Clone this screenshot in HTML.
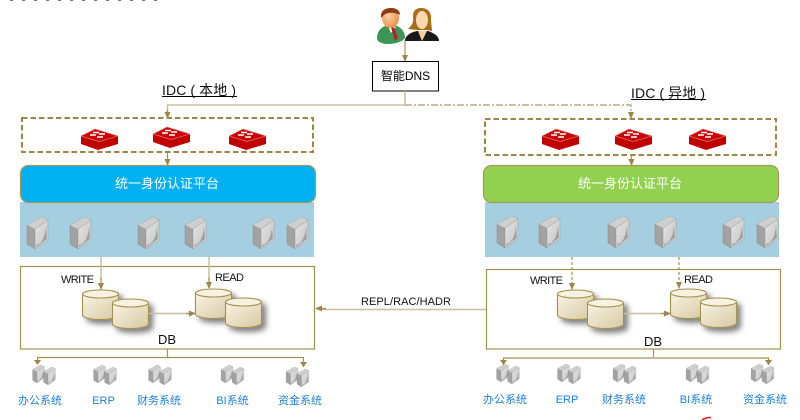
<!DOCTYPE html>
<html><head><meta charset="utf-8">
<style>
html,body{margin:0;padding:0;background:#fff;width:800px;height:420px;overflow:hidden}
svg{display:block}
text{font-family:"Liberation Sans","Noto Sans CJK SC",sans-serif}
.k{fill:#111;font-size:11px}
.b{fill:#1f7fd6;font-size:11px;text-anchor:middle}
.w{fill:#fff;font-size:13px;text-anchor:middle}
.l{fill:none;stroke:#a3924f;stroke-width:1.2}
.t{fill:none;stroke:#c9bfa0;stroke-width:1.5}
.d{fill:none;stroke:#a3924f;stroke-width:1.2;stroke-dasharray:3 2}
.dash{fill:#fff;stroke:#9a8748;stroke-width:2;stroke-dasharray:5.5 3}
.box{fill:#fff;stroke:#a3924f;stroke-width:1.2}
</style></head><body>
<svg width="800" height="420" viewBox="0 0 800 420" xmlns="http://www.w3.org/2000/svg">
<defs>
<marker id="a" markerWidth="7" markerHeight="6" refX="6" refY="3" orient="auto" markerUnits="userSpaceOnUse"><path d="M0 0L7 3L0 6Z" fill="#9a8748"/></marker>
<linearGradient id="cy" x1="0" y1="0" x2="1" y2="1"><stop offset="0" stop-color="#f8f3e4"/><stop offset="1" stop-color="#d6c9a3"/></linearGradient>
<linearGradient id="sv" x1="0" y1="0" x2="1" y2="1"><stop offset="0" stop-color="#e6e6e6"/><stop offset=".6" stop-color="#d0d0d0"/><stop offset="1" stop-color="#e4e4e4"/></linearGradient>
<radialGradient id="fc" cx=".4" cy=".4" r=".7"><stop offset="0" stop-color="#fbd0a6"/><stop offset="1" stop-color="#e8893f"/></radialGradient>
<filter id="sh" x="-30%" y="-30%" width="170%" height="170%"><feDropShadow dx="4" dy="4" stdDeviation="3" flood-color="#000" flood-opacity=".5"/></filter>
<symbol id="sw" viewBox="0 0 37 21" overflow="visible">
<path d="M0 7L14 0L37 7V15L17 21L0 15Z" fill="#c00000"/>
<path d="M0 7L14 0L37 7L18 12.5Z" fill="#c80808" stroke="#e88a8a" stroke-width=".6"/>
<path d="M12 3.500h6M18 5h6M9 6h6M16 8h6" stroke="#fff" stroke-width="1.4" fill="none"/>
</symbol>
<symbol id="sr" viewBox="0 0 21 32" overflow="visible">
<path d="M0 8L15 0L21 3L8 12V32L0 27Z" fill="#a2a2a2" stroke="#8a8a8a" stroke-width=".5"/>
<path d="M0 8L15 0L21 3L8 12Z" fill="#cfcfcf"/>
<path d="M8 12L21 3V23L8 32Z" fill="url(#sv)" stroke="#9a9a9a" stroke-width=".5"/>
<path d="M9 28C15 27 18 20 19 10L20 22L9 30Z" fill="#a0a0a0"/>
</symbol>
<symbol id="pr" viewBox="0 0 24 20" overflow="visible">
<use href="#sr" x="0" y="0" width="13" height="18"/>
<use href="#sr" x="11" y="2" width="13" height="18"/>
</symbol>
<symbol id="cyl" viewBox="0 0 37 31" overflow="visible">
<path d="M.5 5V26C.5 28.500 8.500 30.500 18.500 30.500S36.500 28.500 36.500 26V5Z" fill="url(#cy)" stroke="#a3924f" stroke-width="1.1"/>
<ellipse cx="18.500" cy="5" rx="18" ry="4" fill="#f6f1e0" stroke="#a3924f" stroke-width="1.1"/>
</symbol>
</defs>

<path d="M10 .5H165" stroke="#777" stroke-width="1" stroke-dasharray="3 9"/>
<path d="M702 419.5L708 417.5H711" stroke="#d8202a" stroke-width="1.6" fill="none"/>

<!-- users -->
<g>
<path d="M377 38C377 30 383 25 391 25C399 25 405 30 405 38C402 42 395 44 388 44C382 44 377 42 377 38Z" fill="#3d9655"/>
<path d="M388 26L391 33L396 27Z" fill="#fff"/>
<path d="M391 27L394 27L398 38L395 41L392 31Z" fill="#b5202a"/>
<ellipse cx="390.500" cy="18" rx="8.500" ry="10" fill="url(#fc)"/>
<path d="M381 18C380 11 385 8 391 8C397 8 400 11 400 15C395 12 387 12 384 15Z" fill="#8e3a12"/>
<path d="M405 41C405 35 412 32 417 31H428C434 33 439 36 439 41Z" fill="#1a1a1a"/>
<path d="M418 31L422 41L427 31Z" fill="#f7cfa5"/>
<path d="M408 29C411 26 414 24 413 16C413 10 417 8 421 8C428 8 431 12 431 18C431 24 432 28 432 31L427 30H417Z" fill="#a96d14"/>
<ellipse cx="422" cy="20" rx="6" ry="9" fill="#fbd7b2"/>
</g>

<path class="l" d="M405 41V61" marker-end="url(#a)"/>
<rect x="372.500" y="61.500" width="66" height="29.500" fill="#fff" stroke="#000"/>
<text x="405.500" y="80" font-size="12" text-anchor="middle" fill="#000">智能DNS</text>

<path class="t" d="M405 91V105H167.500V112"/>
<path class="l" d="M167.500 110V118" marker-end="url(#a)"/>
<path d="M405 105H631V118" fill="none" stroke="#a89a68" stroke-width="1.2" stroke-dasharray="7 2 2 2" marker-end="url(#a)"/>

<text x="162" y="95" font-size="14" fill="#111" textLength="74" xml:space="preserve">IDC ( 本地 )</text>
<path d="M162 96.500H237" stroke="#000"/>
<text x="631" y="98" font-size="14" fill="#111" textLength="74" xml:space="preserve">IDC ( 异地 )</text>
<path d="M631 99.500H706" stroke="#000"/>

<rect x="22" y="118" width="291" height="34" class="dash"/>
<rect x="485" y="119" width="291" height="36" class="dash"/>
<use href="#sw" x="81" y="129" width="37" height="21"/>
<use href="#sw" x="153" y="127" width="37" height="21"/>
<use href="#sw" x="229" y="129" width="37" height="21"/>
<use href="#sw" x="542" y="129" width="37" height="21"/>
<use href="#sw" x="615" y="129" width="37" height="21"/>
<use href="#sw" x="689" y="129" width="37" height="21"/>

<path class="l" d="M167.500 152V165" marker-end="url(#a)"/>
<path class="l" d="M631.500 155V165" marker-end="url(#a)"/>

<rect x="20" y="202" width="294" height="55" fill="#a5cfe1"/>
<rect x="485" y="202" width="294" height="55" fill="#a5cfe1"/>
<rect x="20.500" y="165.500" width="295" height="37" rx="8" fill="#00b0f0" stroke="#a89858" stroke-width="1.2"/>
<rect x="483.500" y="165.500" width="295" height="37" rx="8" fill="#92d050" stroke="#a89858" stroke-width="1.2"/>
<text class="w" x="167" y="188">统一身份认证平台</text>
<text class="w" x="630" y="188">统一身份认证平台</text>

<use href="#sr" x="27" y="217" width="21" height="32"/>
<use href="#sr" x="70" y="217" width="21" height="32"/>
<use href="#sr" x="138" y="217" width="21" height="32"/>
<use href="#sr" x="185" y="217" width="21" height="32"/>
<use href="#sr" x="253" y="217" width="21" height="32"/>
<use href="#sr" x="287" y="217" width="21" height="32"/>
<use href="#sr" x="497" y="216" width="21" height="32"/>
<use href="#sr" x="539" y="216" width="21" height="32"/>
<use href="#sr" x="608" y="216" width="21" height="32"/>
<use href="#sr" x="655" y="216" width="21" height="32"/>
<use href="#sr" x="723" y="216" width="21" height="32"/>
<use href="#sr" x="757" y="216" width="21" height="32"/>

<rect x="20.500" y="266.500" width="294" height="82.500" class="box"/>
<rect x="486.500" y="269.500" width="294" height="79.500" class="box"/>

<path class="t" d="M101 257V280"/><path class="l" d="M101 278V289" marker-end="url(#a)"/>
<path class="t" d="M209 257V280"/><path class="l" d="M209 278V288" marker-end="url(#a)"/>
<path class="d" d="M572 257V289" marker-end="url(#a)"/>
<path class="d" d="M679 257V288" marker-end="url(#a)"/>

<text class="k" x="61" y="283" textLength="33">WRITE</text>
<text class="k" x="215" y="281" textLength="29">READ</text>
<text class="k" x="530" y="284" textLength="33">WRITE</text>
<text class="k" x="684" y="283" textLength="29">READ</text>

<g filter="url(#sh)">
<use href="#cyl" x="82" y="289" width="37" height="31"/>
<use href="#cyl" x="112" y="298" width="37" height="31"/>
<use href="#cyl" x="195" y="288" width="37" height="31"/>
<use href="#cyl" x="225" y="297" width="37" height="31"/>
<use href="#cyl" x="557" y="289" width="37" height="31"/>
<use href="#cyl" x="587" y="298" width="37" height="31"/>
<use href="#cyl" x="670" y="288" width="37" height="31"/>
<use href="#cyl" x="700" y="297" width="37" height="31"/>
</g>
<path class="t" d="M149 313.500H190"/><path class="l" d="M186 313.500H195" marker-end="url(#a)"/>
<path class="t" d="M624 313.500H665"/><path class="l" d="M661 313.500H670" marker-end="url(#a)"/>

<text x="167" y="344" font-size="13" fill="#111" text-anchor="middle">DB</text>
<text x="653" y="346" font-size="13" fill="#111" text-anchor="middle">DB</text>

<path class="t" d="M486 309.500H322"/><path class="l" d="M326 308.500H316" marker-end="url(#a)"/>
<text class="k" x="361" y="305" textLength="90">REPL/RAC/HADR</text>

<path class="l" d="M167.500 349V357"/>
<path class="l" d="M37.500 364V357.500H303.500V367"/>
<path d="M34 360L37.500 365L41 360ZM300 362L303.500 367L307 362Z" fill="#9a8748"/>
<path class="l" d="M653.500 349V357"/>
<path class="l" d="M503.500 365V358H768.500V365"/>
<path d="M500 360L503.500 365L507 360ZM765 360L768.500 365L772 360Z" fill="#9a8748"/>

<use href="#pr" x="32" y="365" width="24" height="20"/>
<use href="#pr" x="93" y="365" width="24" height="20"/>
<use href="#pr" x="148" y="365" width="24" height="20"/>
<use href="#pr" x="220" y="365" width="25" height="20"/>
<use href="#pr" x="285" y="367" width="25" height="20"/>
<use href="#pr" x="496" y="364" width="24" height="20"/>
<use href="#pr" x="557" y="364" width="24" height="20"/>
<use href="#pr" x="612" y="364" width="25" height="20"/>
<use href="#pr" x="685" y="364" width="25" height="20"/>
<use href="#pr" x="750" y="364" width="25" height="20"/>

<text class="b" x="40" y="404">办公系统</text>
<text class="b" x="103.500" y="404">ERP</text>
<text class="b" x="159" y="404">财务系统</text>
<text class="b" x="232.500" y="404">BI系统</text>
<text class="b" x="300" y="404">资金系统</text>
<text class="b" x="505" y="403">办公系统</text>
<text class="b" x="567" y="403">ERP</text>
<text class="b" x="624" y="403">财务系统</text>
<text class="b" x="696" y="403">BI系统</text>
<text class="b" x="765" y="403">资金系统</text>
</svg>
</body></html>
